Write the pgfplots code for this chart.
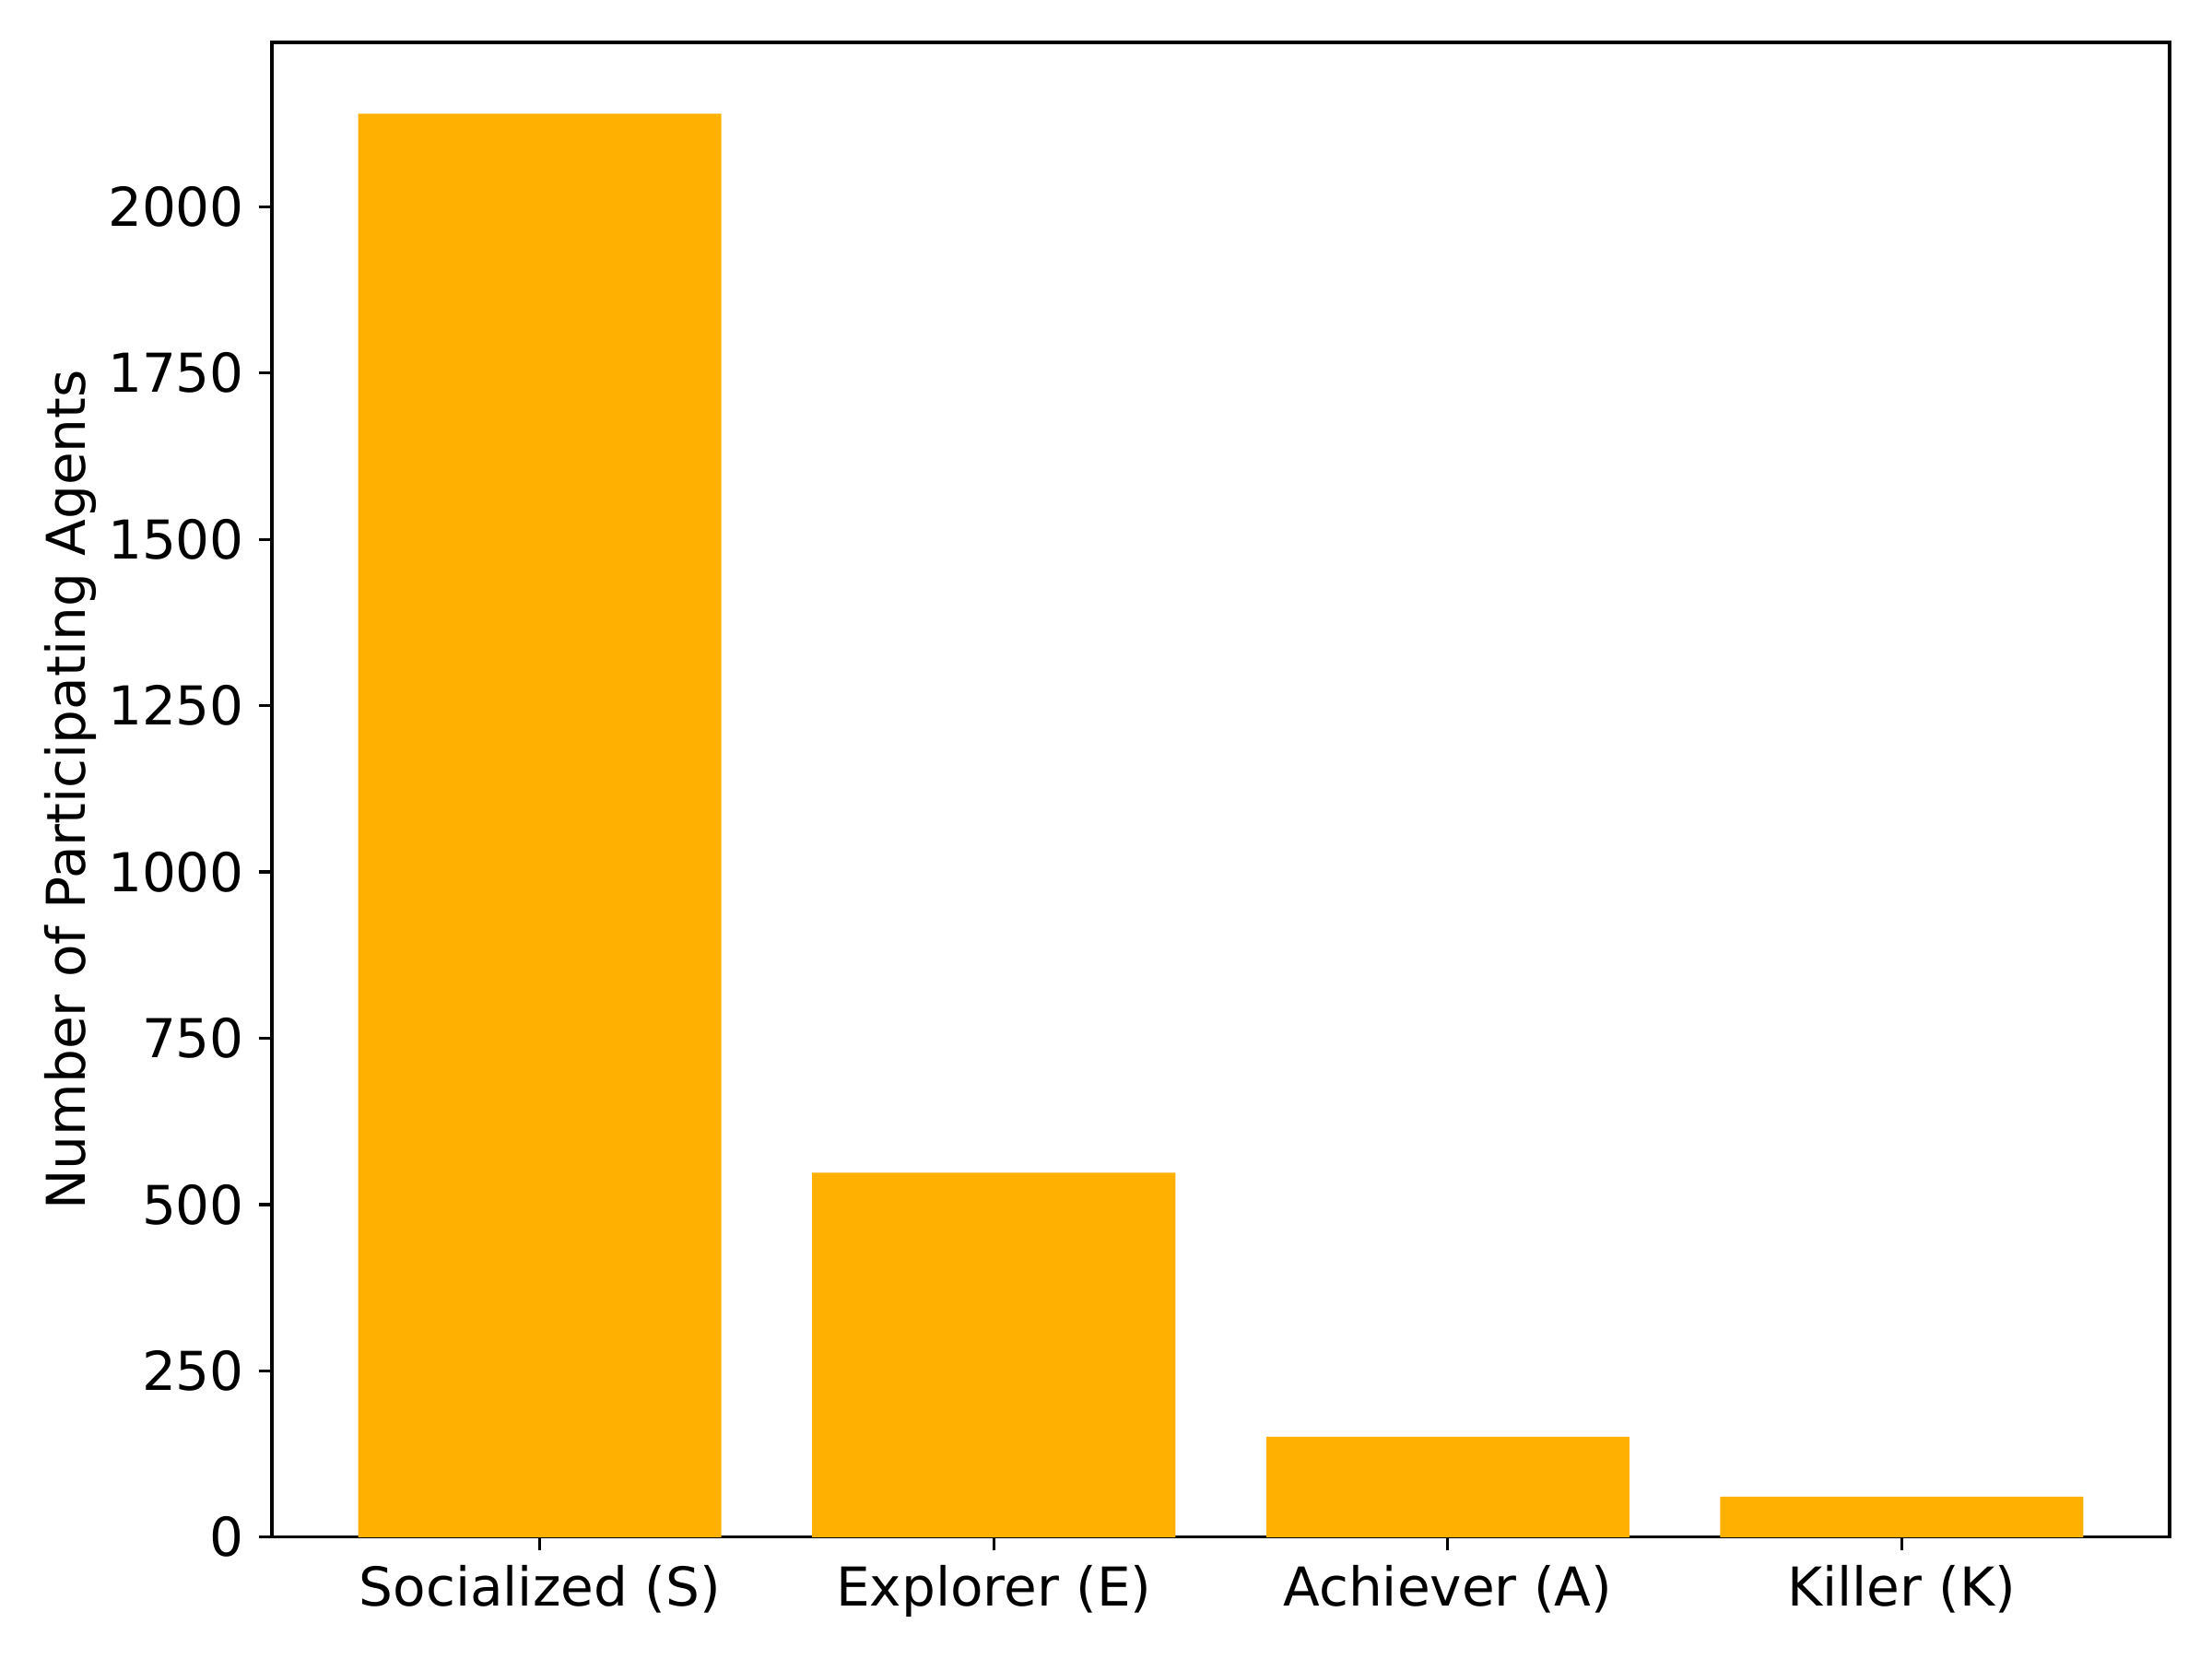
\documentclass[border=0pt]{standalone}
\usepackage{pgfplots}
\pgfplotsset{compat=1.18}
\usepackage{fontspec}
\setmainfont{DejaVu Sans}
\definecolor{barc}{RGB}{255,176,0}
\begin{document}
\fontsize{14pt}{16.8pt}\selectfont
\begin{tikzpicture}
\begin{axis}[
  scale only axis,
  width=496pt, height=390.7pt,
  xmin=-0.59, xmax=3.59,
  ymin=0, ymax=2247,
  xtick={0,1,2,3},
  xticklabels={Socialized (S), Explorer (E), Achiever (A), Killer (K)},
  ytick={0,250,500,750,1000,1250,1500,1750,2000},
  /pgf/number format/assume math mode=true,
  /pgf/number format/set thousands separator={},
  /pgf/number format/fixed,
  tick align=outside,
  major tick length=3.5pt,
  tick style={line width=0.8pt, black},
  axis line style={line width=0.8pt},
  xtick pos=bottom, ytick pos=left,
  tick label style={font=\fontsize{14pt}{16.8pt}\selectfont},
  yticklabel style={xshift=1.1pt},
  xticklabel style={yshift=1.1pt},
  ylabel={Number of Participating Agents},
  ylabel style={font=\fontsize{14pt}{16.8pt}\selectfont, at={(axis description cs:-0.1060,0.5)}, anchor=center},
  ybar, bar width=0.8, bar shift=0pt,
]
\addplot[fill=barc, draw=none] coordinates {(0,2140) (1,548) (2,151) (3,61)};
\end{axis}
\path ([shift={(-71.1pt,-31.8pt)}]current axis.south west) rectangle ([shift={(11.1pt,11.1pt)}]current axis.north east);
\end{tikzpicture}
\end{document}
